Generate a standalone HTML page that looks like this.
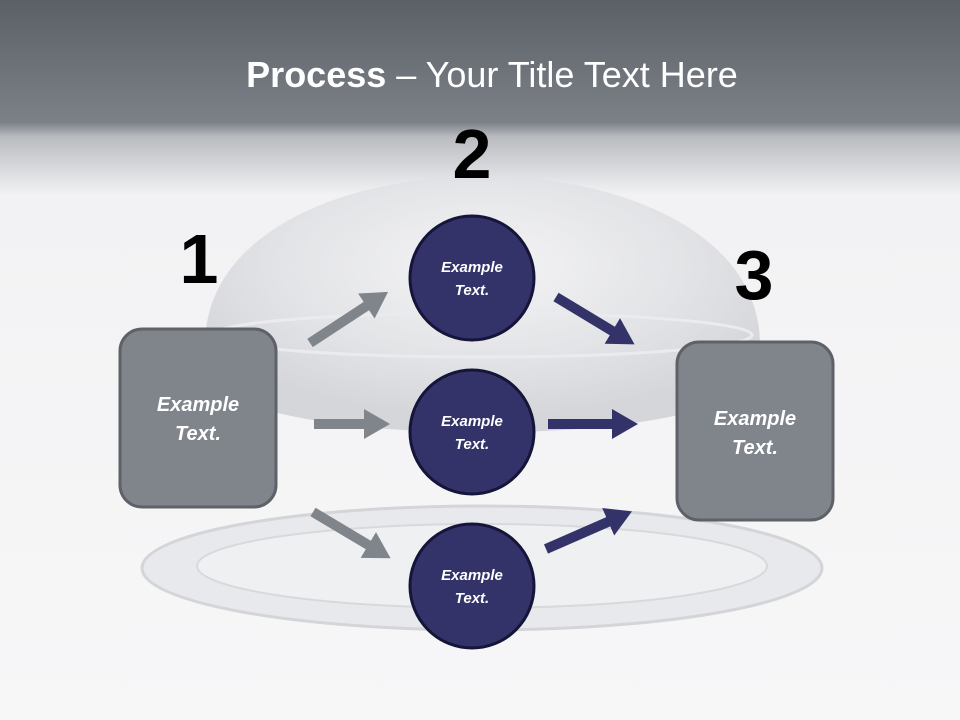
<!DOCTYPE html>
<html><head><style>body{margin:0}svg{display:block}text{font-family:"Liberation Sans",sans-serif}</style></head><body>
<svg width="960" height="720" viewBox="0 0 960 720" xmlns="http://www.w3.org/2000/svg">
<defs>
<linearGradient id="bg" x1="0" y1="0" x2="0" y2="1">
<stop offset="0" stop-color="#5b6067"/><stop offset="0.17" stop-color="#7c8188"/><stop offset="0.19" stop-color="#b9bbc0"/><stop offset="0.27" stop-color="#f2f2f4"/><stop offset="1" stop-color="#f7f7f8"/></linearGradient>
<radialGradient id="dome" cx="0.5" cy="0.35" r="0.6"><stop offset="0" stop-color="#f4f4f6"/><stop offset="0.6" stop-color="#e0e1e4"/><stop offset="1" stop-color="#cfd0d4"/></radialGradient>
<marker id="mg" markerWidth="3" markerHeight="3" refX="0.2" refY="1.5" orient="auto" markerUnits="strokeWidth"><path d="M0,0 L2.6,1.5 L0,3 Z" fill="#80858c"/></marker>
<marker id="mn" markerWidth="3" markerHeight="3" refX="0.2" refY="1.5" orient="auto" markerUnits="strokeWidth"><path d="M0,0 L2.6,1.5 L0,3 Z" fill="#33336a"/></marker>
</defs>
<rect width="960" height="720" fill="url(#bg)"/>
<ellipse cx="482" cy="568" rx="340" ry="62" fill="#e8e9ec" stroke="#d4d5d9" stroke-width="3"/>
<ellipse cx="482" cy="566" rx="285" ry="42" fill="#eff0f2" stroke="#d8d9dd" stroke-width="2"/>
<path d="M205,345 C205,120 760,120 760,345 L760,380 C700,450 265,450 205,380 Z" fill="url(#dome)" opacity="0.85"/>
<ellipse cx="482" cy="335" rx="270" ry="22" fill="none" stroke="#eaebee" stroke-width="3"/>
<text x="492" y="87" font-size="36" fill="#fff" text-anchor="middle"><tspan font-weight="bold">Process</tspan> – Your Title Text Here</text>
<text x="472" y="178" font-size="70" font-weight="bold" text-anchor="middle" fill="#000">2</text>
<text x="199" y="283" font-size="70" font-weight="bold" text-anchor="middle" fill="#000">1</text>
<text x="754" y="299" font-size="70" font-weight="bold" text-anchor="middle" fill="#000">3</text>
<g stroke-width="10">
<line x1="310" y1="343" x2="368" y2="305" stroke="#80858c" marker-end="url(#mg)"/>
<line x1="314" y1="424" x2="366" y2="424" stroke="#80858c" marker-end="url(#mg)"/>
<line x1="313" y1="512" x2="370" y2="546" stroke="#80858c" marker-end="url(#mg)"/>
<line x1="556" y1="297" x2="614" y2="332" stroke="#33336a" marker-end="url(#mn)"/>
<line x1="548" y1="424" x2="614" y2="424" stroke="#33336a" marker-end="url(#mn)"/>
<line x1="546" y1="549" x2="610" y2="521" stroke="#33336a" marker-end="url(#mn)"/>
</g>
<rect x="120" y="329" width="156" height="178" rx="22" fill="#80858c" stroke="#5e6167" stroke-width="3"/>
<rect x="677" y="342" width="156" height="178" rx="22" fill="#80858c" stroke="#5e6167" stroke-width="3"/>
<g fill="#33336a" stroke="#15153a" stroke-width="3">
<circle cx="472" cy="278" r="62"/><circle cx="472" cy="432" r="62"/><circle cx="472" cy="586" r="62"/></g>
<g fill="#fff" font-weight="bold" font-style="italic" text-anchor="middle">
<text x="198" y="411" font-size="20">Example</text><text x="198" y="440" font-size="20">Text.</text>
<text x="755" y="425" font-size="20">Example</text><text x="755" y="454" font-size="20">Text.</text>
<text x="472" y="272" font-size="15">Example</text><text x="472" y="295" font-size="15">Text.</text>
<text x="472" y="426" font-size="15">Example</text><text x="472" y="449" font-size="15">Text.</text>
<text x="472" y="580" font-size="15">Example</text><text x="472" y="603" font-size="15">Text.</text>
</g>
</svg>
</body></html>
